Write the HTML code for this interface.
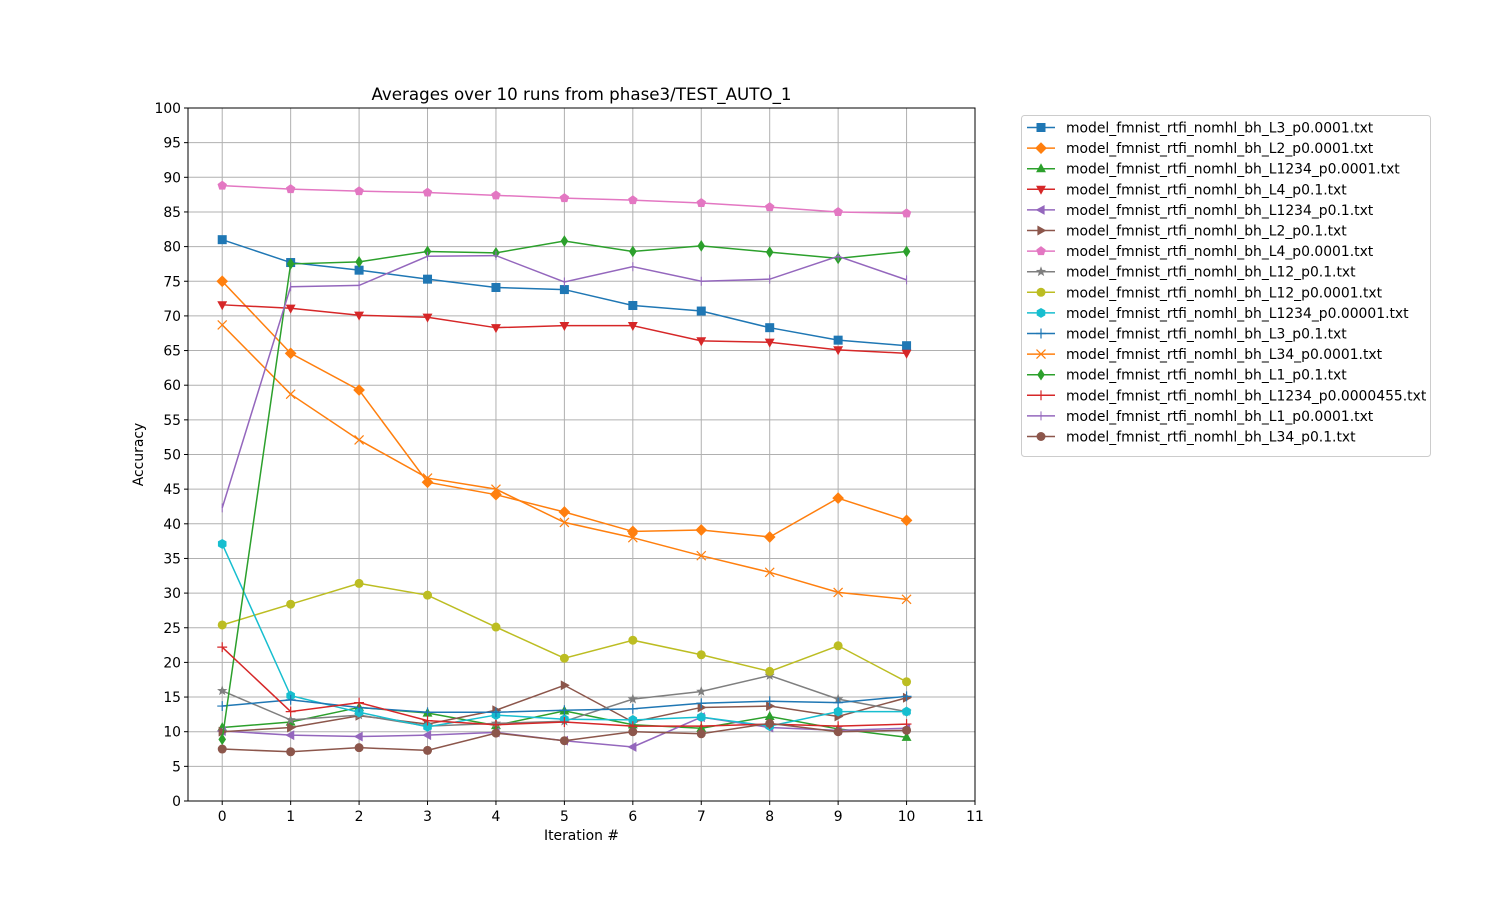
<!DOCTYPE html>
<html><head><meta charset="utf-8"><style>
html,body{margin:0;padding:0;background:#fff;}
svg{display:block;font-family:"DejaVu Sans","Liberation Sans",sans-serif;}
</style></head><body>
<svg id="chart" width="1500" height="900" viewBox="0 0 1500 900"></svg>
<script>
const xCategories=[0,1,2,3,4,5,6,7,8,9,10];
const xTickLabels=["0","1","2","3","4","5","6","7","8","9","10","11"];
const yTickLabels=[0,5,10,15,20,25,30,35,40,45,50,55,60,65,70,75,80,85,90,95,100];
const seriesNames=["model_fmnist_rtfi_nomhl_bh_L3_p0.0001.txt","model_fmnist_rtfi_nomhl_bh_L2_p0.0001.txt","model_fmnist_rtfi_nomhl_bh_L1234_p0.0001.txt","model_fmnist_rtfi_nomhl_bh_L4_p0.1.txt","model_fmnist_rtfi_nomhl_bh_L1234_p0.1.txt","model_fmnist_rtfi_nomhl_bh_L2_p0.1.txt","model_fmnist_rtfi_nomhl_bh_L4_p0.0001.txt","model_fmnist_rtfi_nomhl_bh_L12_p0.1.txt","model_fmnist_rtfi_nomhl_bh_L12_p0.0001.txt","model_fmnist_rtfi_nomhl_bh_L1234_p0.00001.txt","model_fmnist_rtfi_nomhl_bh_L3_p0.1.txt","model_fmnist_rtfi_nomhl_bh_L34_p0.0001.txt","model_fmnist_rtfi_nomhl_bh_L1_p0.1.txt","model_fmnist_rtfi_nomhl_bh_L1234_p0.0000455.txt","model_fmnist_rtfi_nomhl_bh_L1_p0.0001.txt","model_fmnist_rtfi_nomhl_bh_L34_p0.1.txt"];
const sL3_p4=[81,77.7,76.6,75.3,74.1,73.8,71.5,70.7,68.3,66.5,65.7];
const sL2_p4=[75,64.6,59.3,46,44.2,41.7,38.9,39.1,38.1,43.7,40.5];
const sL1234_p4=[10.6,11.4,13.5,12.7,10.9,13.0,11.0,10.5,12.2,10.4,9.2];
const sL4_p1=[71.6,71.1,70.1,69.8,68.3,68.6,68.6,66.4,66.2,65.1,64.6];
const sL1234_p1=[10.1,9.5,9.3,9.5,9.9,8.7,7.8,12.1,10.6,10.2,10.5];
const sL2_p1=[10,10.6,12.3,11.1,13.1,16.7,11.4,13.5,13.7,12.2,14.9];
const sL4_p4=[88.8,88.3,88,87.8,87.4,87,86.7,86.3,85.7,85,84.8];
const sL12_p1=[15.9,11.7,12.4,10.8,11.2,11.5,14.7,15.8,18.1,14.7,12.9];
const sL12_p4=[25.4,28.4,31.4,29.7,25.1,20.6,23.2,21.1,18.7,22.4,17.2];
const sL1234_p5=[37.1,15.2,12.8,10.7,12.4,11.8,11.7,12.1,10.8,12.9,12.9];
const sL3_p1=[13.7,14.6,13.5,12.8,12.8,13.1,13.3,14.1,14.4,14.2,15.1];
const sL34_p4=[68.7,58.7,52.1,46.6,45,40.2,38,35.4,33,30.1,29.1];
const sL1_p1=[8.9,77.5,77.8,79.3,79.1,80.8,79.3,80.1,79.2,78.3,79.3];
const sL1234_p455=[22.2,12.9,14.2,11.6,11,11.4,10.8,10.8,11.1,10.8,11.1];
const sL1_p4=[42.3,74.2,74.4,78.6,78.7,74.9,77.1,75,75.3,78.6,75.2];
const sL34_p1=[7.5,7.1,7.7,7.3,9.8,8.7,10,9.7,11.2,10,10.2];

const allSeries=[sL3_p4,sL2_p4,sL1234_p4,sL4_p1,sL1234_p1,sL2_p1,sL4_p4,sL12_p1,sL12_p4,sL1234_p5,sL3_p1,sL34_p4,sL1_p1,sL1234_p455,sL1_p4,sL34_p1];
const colors=["#1f77b4","#ff7f0e","#2ca02c","#d62728","#9467bd","#8c564b","#e377c2","#7f7f7f","#bcbd22","#17becf","#1f77b4","#ff7f0e","#2ca02c","#d62728","#9467bd","#8c564b"];
const markers=["s","D","^","v","<",">","p","*","o","h","+","x","d","+","|","o"];

const NS="http://www.w3.org/2000/svg";
const svg=document.getElementById('chart');
const L=188,R=975,T=108,B=801;
const FS=13.9;
const xs=v=>L+(v+0.5)/11.5*(R-L);
const ys=v=>B-v/100*(B-T);
function el(tag,attrs,parent){const e=document.createElementNS(NS,tag);for(const k in attrs)e.setAttribute(k,attrs[k]);(parent||svg).appendChild(e);return e;}

const grid=el('g',{});


xTickLabels.forEach((t,i)=>{const x=xs(i);el('line',{x1:x,x2:x,y1:T,y2:B,stroke:'#b0b0b0','stroke-width':1},grid);});
yTickLabels.forEach(v=>{const y=ys(v);el('line',{x1:L,x2:R,y1:y,y2:y,stroke:'#b0b0b0','stroke-width':1},grid);});

const xt=el('g',{});


xTickLabels.forEach((t,i)=>{const x=xs(i);el('line',{x1:x,x2:x,y1:B,y2:B+4,stroke:'#000'},xt);const tx=el('text',{x:x,y:B+20,'text-anchor':'middle','font-size':FS},xt);tx.textContent=t;});
const yt=el('g',{});


yTickLabels.forEach(v=>{const y=ys(v);el('line',{x1:L-4,x2:L,y1:y,y2:y,stroke:'#000'},yt);const tx=el('text',{x:L-7,y:y+5,'text-anchor':'end','font-size':FS},yt);tx.textContent=v;});

function marker(g,m,x,y,c,sz){
  const s=sz||4.5;
  switch(m){
    case 's':el('rect',{x:x-s,y:y-s,width:2*s,height:2*s,fill:c},g);break;
    case 'D':el('polygon',{points:`${x},${y-s*1.3} ${x+s*1.3},${y} ${x},${y+s*1.3} ${x-s*1.3},${y}`,fill:c},g);break;
    case 'd':el('polygon',{points:`${x},${y-s*1.3} ${x+s*0.85},${y} ${x},${y+s*1.3} ${x-s*0.85},${y}`,fill:c},g);break;
    case '^':el('polygon',{points:`${x},${y-s*1.2} ${x+s*1.1},${y+s*0.8} ${x-s*1.1},${y+s*0.8}`,fill:c},g);break;
    case 'v':el('polygon',{points:`${x},${y+s*1.2} ${x+s*1.1},${y-s*0.8} ${x-s*1.1},${y-s*0.8}`,fill:c},g);break;
    case '<':el('polygon',{points:`${x-s*1.2},${y} ${x+s*0.8},${y-s*1.1} ${x+s*0.8},${y+s*1.1}`,fill:c},g);break;
    case '>':el('polygon',{points:`${x+s*1.2},${y} ${x-s*0.8},${y-s*1.1} ${x-s*0.8},${y+s*1.1}`,fill:c},g);break;
    case 'p':{let p=[];for(let k=0;k<5;k++){const a=-Math.PI/2+k*2*Math.PI/5;p.push((x+s*1.1*Math.cos(a))+','+(y+s*1.1*Math.sin(a)));}el('polygon',{points:p.join(' '),fill:c},g);break;}
    case 'h':{let p=[];for(let k=0;k<6;k++){const a=-Math.PI/2+k*Math.PI/3;p.push((x+s*1.1*Math.cos(a))+','+(y+s*1.1*Math.sin(a)));}el('polygon',{points:p.join(' '),fill:c},g);break;}
    case '*':{let p=[];for(let k=0;k<10;k++){const a=-Math.PI/2+k*Math.PI/5;const r=k%2?s*0.5:s*1.2;p.push((x+r*Math.cos(a))+','+(y+r*Math.sin(a)));}el('polygon',{points:p.join(' '),fill:c},g);break;}
    case 'o':el('circle',{cx:x,cy:y,r:s,fill:c},g);break;
    case '+':el('path',{d:`M${x-s*1.1},${y}H${x+s*1.1}M${x},${y-s*1.1}V${y+s*1.1}`,stroke:c,'stroke-width':1.2,fill:'none'},g);break;
    case 'x':el('path',{d:`M${x-s},${y-s}L${x+s},${y+s}M${x-s},${y+s}L${x+s},${y-s}`,stroke:c,'stroke-width':1.2,fill:'none'},g);break;
    case '|':el('path',{d:`M${x},${y-s}V${y+s}`,stroke:c,'stroke-width':1,fill:'none'},g);break;
  }
}

const clip=el('clipPath',{id:'pc'});el('rect',{x:L,y:T,width:R-L,height:B-T},clip);
allSeries.forEach((vals,i)=>{
  const g=el('g',{'clip-path':'url(#pc)'});
  
  
  const pts=vals.map((v,j)=>xs(xCategories[j])+','+ys(v)).join(' ');
  el('polyline',{points:pts,fill:'none',stroke:colors[i],'stroke-width':1.5},g);
  vals.forEach((v,j)=>marker(g,markers[i],xs(xCategories[j]),ys(v),colors[i]));
});

el('rect',{x:L,y:T,width:R-L,height:B-T,fill:'none',stroke:'#000','stroke-width':1});

const title=el('text',{x:(L+R)/2,y:100,'text-anchor':'middle','font-size':16.7});


title.textContent='Averages over 10 runs from phase3/TEST_AUTO_1';
const xl=el('text',{x:(L+R)/2,y:840,'text-anchor':'middle','font-size':FS});


xl.textContent='Iteration #';
const yl=el('text',{x:143,y:(T+B)/2,'text-anchor':'middle','font-size':FS,transform:`rotate(-90 143 ${(T+B)/2})`});


yl.textContent='Accuracy';

const lg=el('g',{});


el('rect',{x:1021.5,y:115.5,width:409,height:341,rx:3,fill:'#fff',stroke:'#ccc'},lg);
seriesNames.forEach((n,i)=>{
  const y=127.5+i*20.6;
  const e=el('g',{},lg);
  
  
  el('line',{x1:1027,x2:1055,y1:y,y2:y,stroke:colors[i],'stroke-width':1.5},e);
  marker(e,markers[i],1041,y,colors[i]);
  const t=el('text',{x:1066,y:y+5,'font-size':FS},e);t.textContent=n;
});
</script>
</body></html>
